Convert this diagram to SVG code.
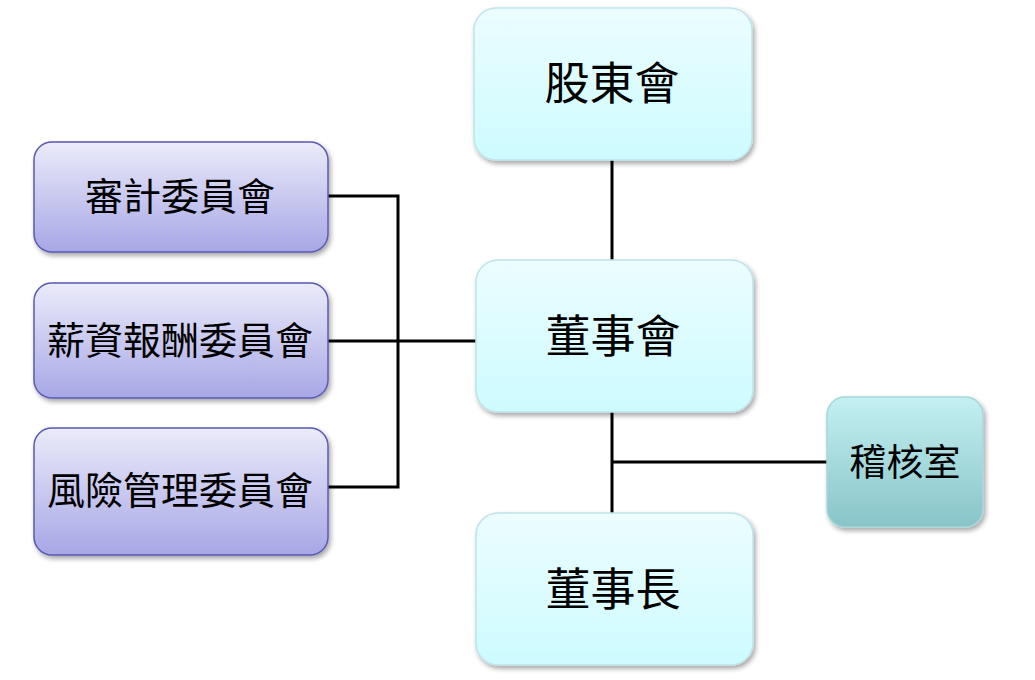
<svg xmlns="http://www.w3.org/2000/svg" width="1035" height="680" viewBox="0 0 1035 680">
<defs>
<linearGradient id="gCyan" x1="0" y1="0" x2="0" y2="1">
<stop offset="0" stop-color="#ecfdff"/><stop offset="1" stop-color="#cdfbff"/>
</linearGradient>
<linearGradient id="gPurple" x1="0" y1="0" x2="0" y2="1">
<stop offset="0" stop-color="#ebebfa"/><stop offset="1" stop-color="#a7a7e6"/>
</linearGradient>
<linearGradient id="gTeal" x1="0" y1="0" x2="0" y2="1">
<stop offset="0" stop-color="#c4f0f2"/><stop offset="1" stop-color="#88c4c8"/>
</linearGradient>
<filter id="sh" x="-10%" y="-10%" width="130%" height="130%">
<feGaussianBlur in="SourceAlpha" stdDeviation="2.5"/>
<feOffset dx="2" dy="3" result="b"/>
<feComponentTransfer><feFuncA type="linear" slope="0.35"/></feComponentTransfer>
<feMerge><feMergeNode/><feMergeNode in="SourceGraphic"/></feMerge>
</filter>
</defs>
<style>
.cy{fill:url(#gCyan);stroke:#bfe3ea;stroke-width:1.5;filter:url(#sh)}
.pu{fill:url(#gPurple);stroke:#5a5ab4;stroke-width:1.5;filter:url(#sh)}
.te{fill:url(#gTeal);stroke:#a6d6dc;stroke-width:1.5;filter:url(#sh)}
text{font-family:"Noto Sans CJK TC","Noto Sans CJK SC",sans-serif;fill:#000;text-anchor:middle;dominant-baseline:central}
.big{font-size:45px}
.mid{font-size:38px}
.con{stroke:#000;stroke-width:3;fill:none}
</style>
<g id="connectors">
<path class="con" d="M612,160 V260"/>
<path class="con" d="M612,412 V513"/>
<path class="con" d="M612,462 H827"/>
<path class="con" d="M328,196 H398 V487 H328"/>
<path class="con" d="M328,341 H476"/>
</g>
<g id="n-shareholders"><rect class="cy" x="474" y="8" width="278" height="152" rx="22"/><text class="big" x="612" y="80">股東會</text></g>
<g id="n-board"><rect class="cy" x="476" y="260" width="277" height="152" rx="22"/><text class="big" x="613" y="333">董事會</text></g>
<g id="n-chairman"><rect class="cy" x="476" y="513" width="277" height="152" rx="22"/><text class="big" x="613" y="586">董事長</text></g>
<g id="n-audit-office"><rect class="te" x="827" y="397" width="156" height="130" rx="18"/><text class="mid" x="905" y="460" style="font-size:37px">稽核室</text></g>
<g id="n-audit-committee"><rect class="pu" x="34" y="142" width="294" height="110" rx="18"/><text class="mid" x="180" y="193">審計委員會</text></g>
<g id="n-compensation"><rect class="pu" x="34" y="283" width="294" height="115" rx="18"/><text class="mid" x="180" y="337">薪資報酬委員會</text></g>
<g id="n-risk"><rect class="pu" x="34" y="428" width="294" height="127" rx="18"/><text class="mid" x="180" y="487">風險管理委員會</text></g>
</svg>
